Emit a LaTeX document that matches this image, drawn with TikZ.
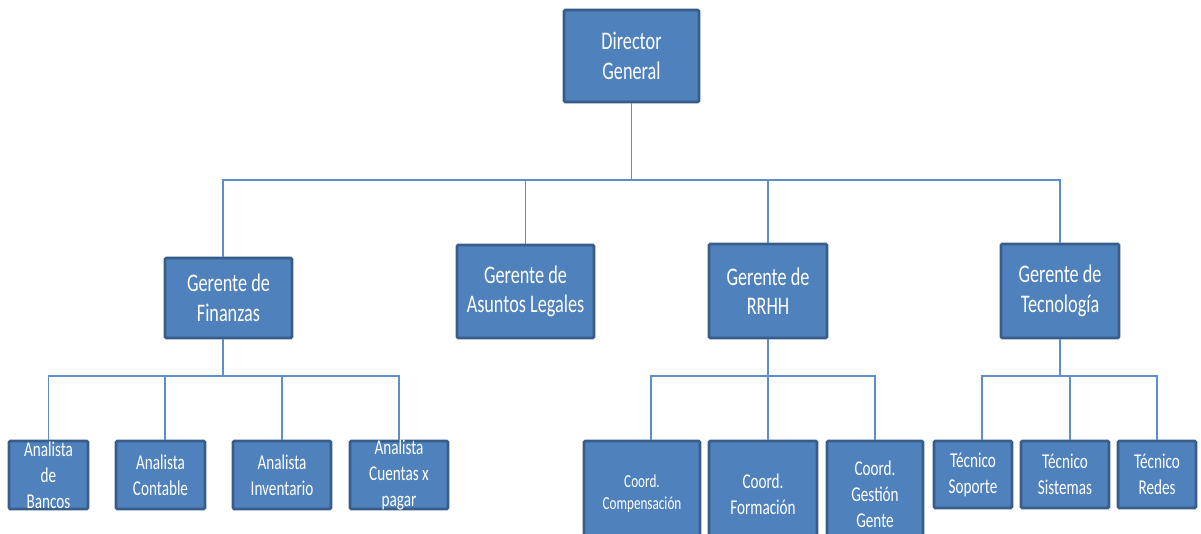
\documentclass[tikz,border=0pt]{standalone}
\usepackage{fontspec}
\setmainfont{Carlito}[FakeStretch=0.72]
\usepackage{tikz}
\usepackage{xcolor}
\definecolor{orgfill}{HTML}{4F81BD}
\definecolor{orgedge}{HTML}{385D8A}
\definecolor{orgline}{HTML}{5F8FCB}

\begin{document}
\begin{tikzpicture}[x=0.025cm,y=-0.025cm,
  box/.style={draw=orgedge,fill=orgfill,line width=2pt,text=white,align=center,inner sep=1pt,rounded corners=1pt},
  big/.style={box,font=\fontsize{18}{21}\selectfont},
  small/.style={box,font=\fontsize{15}{18.5}\selectfont},
  link/.style={orgline,line width=1.1pt}
]
\path[use as bounding box,fill=white] (0,0) rectangle (1201,533);

% Top
\node[big,minimum width=3.375cm,minimum height=2.3cm] (dir) at (631.5,56) {Director\\General};

% Managers
\node[big,minimum width=3.175cm,minimum height=2cm] (fin) at (228.5,298) {Gerente de\\Finanzas};
\node[big,minimum width=3.425cm,minimum height=2.325cm] (leg) at (525.5,291.5) {Gerente de\\Asuntos Legales};
\node[big,minimum width=2.95cm,minimum height=2.35cm] (rrhh) at (768,291) {Gerente de\\RRHH};
\node[big,minimum width=2.95cm,minimum height=2.35cm] (tec) at (1060,291) {Gerente de\\Tecnología};

% Finanzas staff
\node[small,minimum width=1.975cm,minimum height=1.7cm,inner ysep=-4pt] (bancos) at (48.5,475) {Analista\\de\\Bancos};
\node[small,minimum width=2.225cm,minimum height=1.7cm] (contable) at (160.5,475) {Analista\\Contable};
\node[small,minimum width=2.45cm,minimum height=1.7cm] (invent) at (282,475) {Analista\\Inventario};
\node[small,minimum width=2.45cm,minimum height=1.7cm,inner ysep=-4pt] (cuentas) at (399,475) {Analista\\Cuentas x\\pagar};

% RRHH staff
\node[box,font=\fontsize{13}{15.5}\selectfont,minimum width=2.9cm,minimum height=2.65cm] (comp) at (642,494) {Coord.\\Compensación};
\node[small,minimum width=2.7cm,minimum height=2.65cm] (form) at (763,494) {Coord.\\Formación};
\node[small,minimum width=2.4cm,minimum height=2.65cm] (gest) at (875,494) {Coord.\\Gestión\\Gente};

% Tecnologia staff
\node[small,minimum width=1.95cm,minimum height=1.675cm] (sop) at (973,474.5) {Técnico\\Soporte};
\node[small,minimum width=2.2cm,minimum height=1.675cm] (sis) at (1065,474.5) {Técnico\\Sistemas};
\node[small,minimum width=1.95cm,minimum height=1.675cm] (red) at (1157,474.5) {Técnico\\Redes};

% Connectors (drops are a bit off-centre in places)
\coordinate (busA) at (631.5,180);
\coordinate (busF) at (223,376);
\coordinate (busR) at (768,376);
\coordinate (busT) at (1060,376);

\draw[link] (dir.south) -- (busA);
\draw[link] (busA) -| ([xshift=-5.5*0.025cm]fin.north);
\draw[link] (busA) -| (leg.north);
\draw[link] (busA) -| (rrhh.north);
\draw[link] (busA) -| (tec.north);

\draw[link] ([xshift=-5.5*0.025cm]fin.south) -- (busF);
\draw[link] (busF) -| (bancos.north);
\draw[link] (busF) -| ([xshift=4.5*0.025cm]contable.north);
\draw[link] (busF) -| (invent.north);
\draw[link] (busF) -| (cuentas.north);

\draw[link] (rrhh.south) -- (busR);
\draw[link] (busR) -| ([xshift=9*0.025cm]comp.north);
\draw[link] (busR) -| ([xshift=5*0.025cm]form.north);
\draw[link] (busR) -| (gest.north);

\draw[link] (tec.south) -- (busT);
\draw[link] (busT) -| ([xshift=9*0.025cm]sop.north);
\draw[link] (busT) -| ([xshift=5*0.025cm]sis.north);
\draw[link] (busT) -| (red.north);
\end{tikzpicture}
\end{document}
